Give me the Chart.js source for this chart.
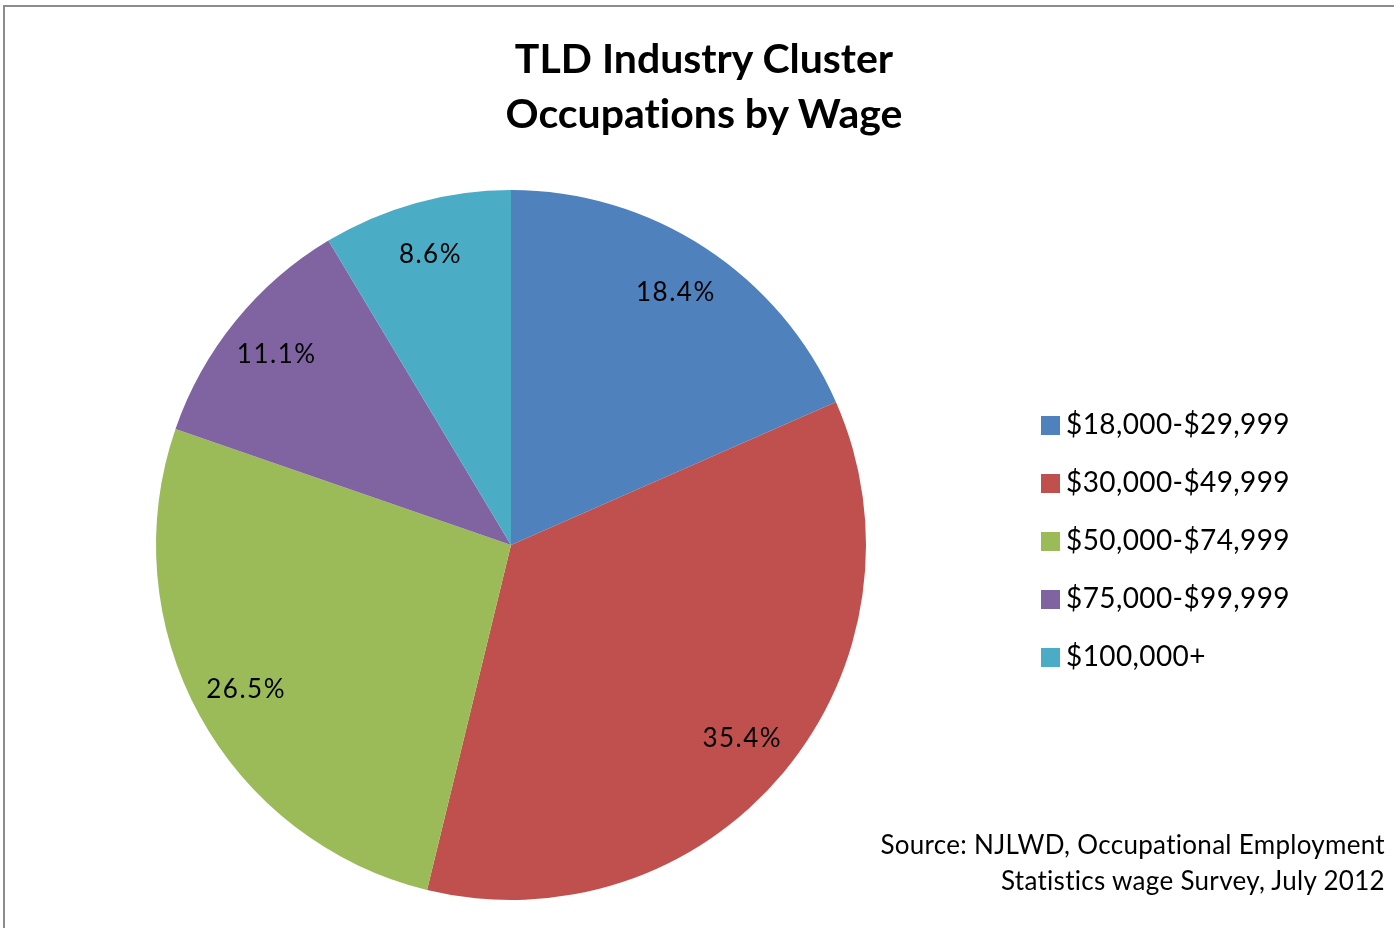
<!DOCTYPE html>
<html lang="en">
<head>
  <meta charset="UTF-8">
  <title>TLD Industry Cluster - Occupations by Wage</title>
  <script src="https://cdn.jsdelivr.net/npm/chart.js"></script>
  <style>
    html, body {
      margin: 0;
      padding: 0;
      background: #fff;
      overflow: hidden;
      font-variant-ligatures: none;
    }

    #frame {
      position: absolute;
      left: 3px;
      top: 5px;
      width: 1500px;
      height: 1000px;
      border-top: 2px solid #8c8c8c;
      border-left: 2px solid #8c8c8c;
    }

    #wrap {
      position: absolute;
      left: 0;
      top: 0;
      width: 1394px;
      height: 928px;
    }

    #titulo {
      position: absolute;
      left: 354px;
      width: 700px;
      top: 30px;
      text-align: center;
      font-family: Lato, 'Open Sans', sans-serif;
      font-weight: bold;
      font-size: 41px;
      line-height: 55px;
      color: #000;
    }

    #legenda {
      position: absolute;
      left: 1041px;
      top: 404px;
      font-family: Lato, 'Open Sans', sans-serif;
      font-size: 28px;
      letter-spacing: 0.4px;
      color: #000;
    }

    #legenda div {
      height: 58px;
      line-height: 38px;
      white-space: nowrap;
    }

    #legenda span.cor {
      display: inline-block;
      width: 19px;
      height: 19px;
      margin-right: 6px;
      vertical-align: -1px;
    }

    #fonte {
      position: absolute;
      right: 9px;
      top: 826px;
      text-align: right;
      font-family: Lato, 'Open Sans', sans-serif;
      font-size: 26px;
      letter-spacing: 0.3px;
      line-height: 36px;
      color: #000;
    }
  </style>
</head>
<body>
  <div id="frame"></div>
  <div id="wrap">
    <canvas id="grafico" width="1394" height="928"></canvas>
  </div>
  <div id="titulo">TLD Industry Cluster<br>Occupations by Wage</div>
  <div id="legenda"></div>
  <div id="fonte">Source: NJLWD, Occupational Employment<br>Statistics wage Survey, July 2012</div>

  <script>
    const faixas = ['$18,000-$29,999', '$30,000-$49,999', '$50,000-$74,999', '$75,000-$99,999', '$100,000+'];
    const percentuais = [18.4, 35.4, 26.5, 11.1, 8.6];
    const cores = ['#4f81bd', '#c0504d', '#9bbb59', '#8064a2', '#4bacc6'];

    // legenda em HTML
    const legenda = document.getElementById('legenda');
    faixas.forEach((f, i) => {
      const d = document.createElement('div');
      d.innerHTML = '<span class="cor" style="background:' + cores[i] + '"></span>' + f;
      legenda.appendChild(d);
    });

    // rótulos dentro das fatias
    const rotulos = {
      id: 'rotulos',
      afterDatasetsDraw(chart) {
        const ctx = chart.ctx;
        const meta = chart.getDatasetMeta(0);
        ctx.save();
        ctx.font = '26px Lato, "Open Sans", sans-serif';
        ctx.letterSpacing = '1.5px';
        ctx.fillStyle = '#000';
        ctx.textAlign = 'center';
        ctx.textBaseline = 'middle';
        meta.data.forEach((arc, i) => {
          const p = arc.getProps(['x', 'y', 'startAngle', 'endAngle', 'outerRadius'], true);
          const meio = (p.startAngle + p.endAngle) / 2;
          const r = p.outerRadius * 0.85;
          ctx.fillText(percentuais[i].toFixed(1) + '%', p.x + Math.cos(meio) * r, p.y + Math.sin(meio) * r);
        });
        ctx.restore();
      }
    };

    new Chart(document.getElementById('grafico').getContext('2d'), {
      type: 'pie',
      data: {
        labels: faixas,
        datasets: [{
          data: percentuais,
          backgroundColor: cores,
          borderWidth: 0
        }]
      },
      options: {
        responsive: false,
        animation: false,
        layout: {
          padding: { left: 156, top: 190, right: 528, bottom: 28 }
        },
        plugins: {
          legend: { display: false },
          tooltip: { enabled: false }
        }
      },
      plugins: [rotulos]
    });
  </script>
</body>
</html>
